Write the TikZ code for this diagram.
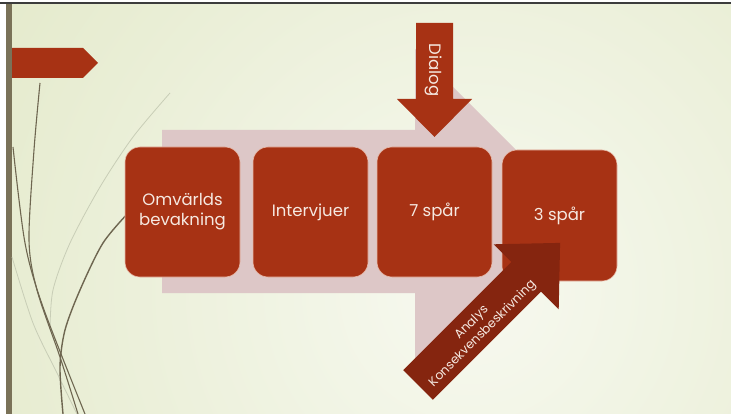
\documentclass[tikz,border=0pt]{standalone}
\usepackage{fontspec}
\setmainfont{Poppins}
\definecolor{boxred}{HTML}{A73214}
\definecolor{pinkc}{HTML}{DDC7C7}
\definecolor{darkred}{HTML}{85250F}
\definecolor{txtc}{HTML}{F6E9E1}
\definecolor{boxedge}{HTML}{E8B9A8}
\definecolor{bgin}{HTML}{F7F9F0}
\definecolor{bgout}{HTML}{E3E9C9}
\definecolor{wispd}{HTML}{6E6650}
\definecolor{wispl}{HTML}{C8CDB6}
\definecolor{barc}{HTML}{7A7258}
\definecolor{topline}{HTML}{3C3C3C}
\begin{document}
\begin{tikzpicture}[x=1pt,y=-1pt,
  stepbox/.style={draw=boxedge, line width=0.6pt, fill=boxred, rounded corners=15pt,
                  minimum width=115pt, minimum height=130pt, inner sep=0pt},
  lbl/.style={text=txtc, font=\fontsize{16.5}{20}\selectfont, align=center},
  wispdark/.style={draw=wispd, line width=1.1pt},
  wisplight/.style={draw=wispl, line width=0.8pt}]
\useasboundingbox (0,0) rectangle (731,414);
\begin{scope}
  \clip (0,0) rectangle (731,414);
  \fill[bgout] (0,0) rectangle (731,414);
  \shade[inner color=bgin, outer color=bgout] (470,290) circle (600);
\end{scope}
\fill[white] (0,0) rectangle (6,414);
\fill[white] (0,0) rectangle (731,2.5);
\fill[topline] (0,2.5) rectangle (731,4);
\fill[barc] (6,4) rectangle (12,414);

% wisps
\draw[wisplight] plot[smooth] coordinates {(170,93) (133,137) (100,187) (70,243) (53,290) (50,330)};
\draw[wisplight] plot[smooth] coordinates {(12,257) (33,323) (57,373) (77,414)};
\draw[wispdark] plot[smooth] coordinates {(40,83) (34,150) (29,240) (37,290) (60,357) (78,414)};
\draw[wispdark] plot[smooth] coordinates {(13,147) (25,243) (43,307) (85,414)};
\draw[wispdark, line width=1.4pt] plot[smooth] coordinates {(130,211) (103,243) (80,290) (65,330) (60,367) (63,414)};

% title banner
\fill[boxred] (12,48) -- (83,48) -- (98,63) -- (83,78) -- (12,78) -- cycle;

% big background arrow
\fill[pinkc] (162,130) -- (415,130) -- (415,49) -- (577.5,211.5) -- (415,374) -- (415,293) -- (162,293) -- cycle;

% dialog arrow
\fill[boxred] (416,23) -- (453,23) -- (453,99) -- (472,99) -- (434.5,137) -- (397,99) -- (416,99) -- cycle;
\node[lbl, rotate=-90] (dl) at (434,70) {Dialog};

% boxes
\node[stepbox, lbl] (b1) at (182.5,212) {Omvärlds\\bevakning};
\node[stepbox, lbl] (b2) at (310.5,212) {Intervjuer};
\node[stepbox, lbl] (b3) at (434.5,212) {7 spår};
\node[stepbox, lbl, minimum height=131pt] (b4) at (559.5,215.5) {3 spår};

% analysis arrow
\fill[darkred] (403.2,370.2) -- (511.3,262.0) -- (493.7,244.3) -- (560.1,242.9) -- (558.7,309.3) -- (541.0,291.7) -- (432.8,399.8) -- cycle;
\node[rotate=45, text=txtc, font=\fontsize{12.5}{15.5}\selectfont, align=center] (ak) at (477.4,328.4) {Analys\\Konsekvensbeskrivning};
\end{tikzpicture}
\end{document}
